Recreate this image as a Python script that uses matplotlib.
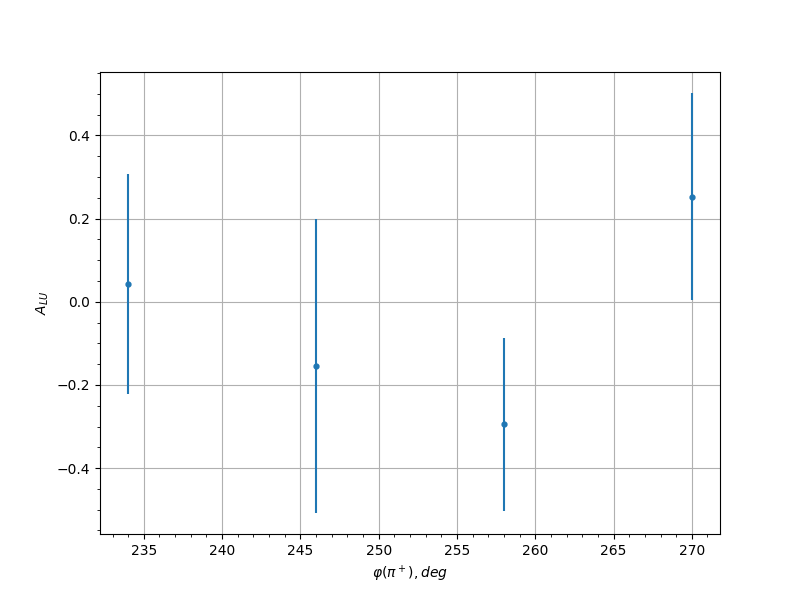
import numpy as np
import matplotlib
matplotlib.use("Agg")
import matplotlib.pyplot as plt

phi = [234, 246, 258, 270]
a_lu = [0.043, -0.154, -0.294, 0.253]
a_err = [0.265, 0.354, 0.208, 0.249]

fig, ax = plt.subplots(figsize=(8, 6), dpi=100)
ax.errorbar(phi, a_lu, yerr=a_err, fmt='.', markersize=7)
ax.set_xlabel(r'$\varphi(\pi^+), deg$')
ax.set_ylabel(r'$A_{LU}$')
ax.minorticks_on()
ax.grid(True, which='major')
fig.savefig('out.png')
